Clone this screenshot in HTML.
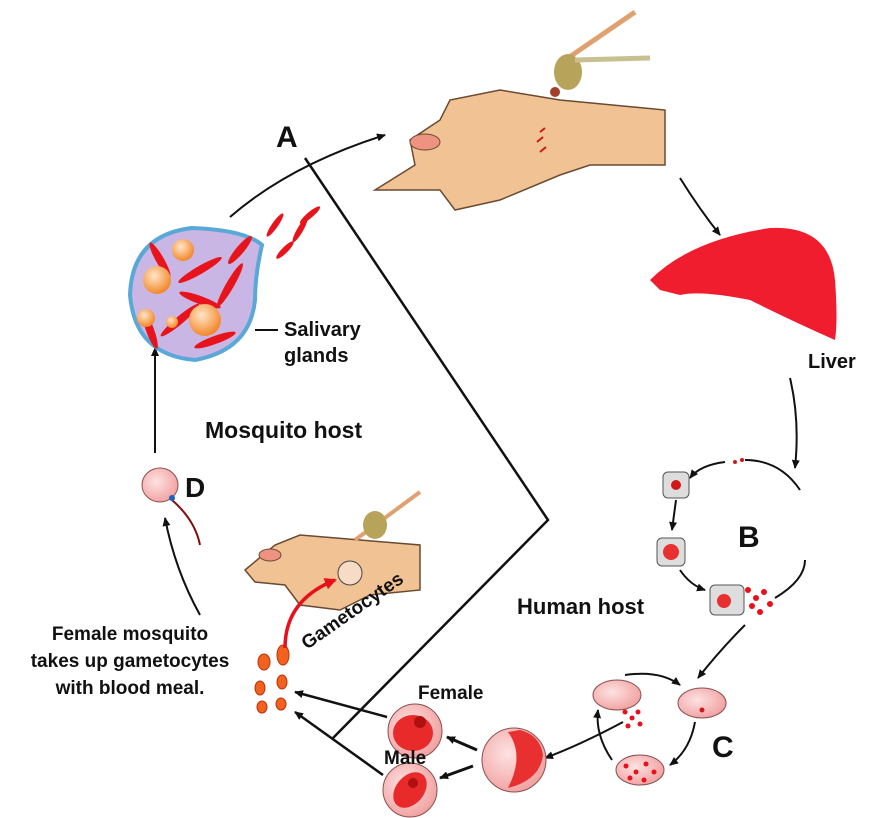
<!DOCTYPE html>
<html><head><style>html,body{margin:0;padding:0;background:#fff}svg{display:block}text{font-family:"Liberation Sans",sans-serif;font-weight:bold;fill:#111}</style></head>
<body>
<svg width="887" height="818" viewBox="0 0 887 818" xmlns="http://www.w3.org/2000/svg">
<defs>
<marker id="ah" markerWidth="10" markerHeight="10" refX="8" refY="5" orient="auto" markerUnits="userSpaceOnUse"><path d="M0,1 L9,5 L0,9 Z" fill="#111"/></marker>
<marker id="ahr" markerWidth="14" markerHeight="14" refX="10" refY="7" orient="auto" markerUnits="userSpaceOnUse"><path d="M0,1 L12,7 L0,13 Z" fill="#e8101a"/></marker>
<radialGradient id="rbc" cx="0.4" cy="0.4" r="0.7"><stop offset="0" stop-color="#fde2e2"/><stop offset="1" stop-color="#f19a9a"/></radialGradient>
<radialGradient id="org" cx="0.4" cy="0.35" r="0.7"><stop offset="0" stop-color="#ffe6c8"/><stop offset="1" stop-color="#f2801e"/></radialGradient>
</defs>
<polyline points="305,158 548,520 333,738" fill="none" stroke="#111" stroke-width="2.5"/>
<path d="M230,217 Q290,165 385,135" fill="none" stroke="#111" stroke-width="2" marker-end="url(#ah)"/>
<path d="M375,190 L415,165 L410,140 L440,120 L450,100 L500,90 L560,100 L665,110 L665,165 L590,165 L560,175 L500,200 L455,210 L440,190 Z" fill="#f1c394" stroke="#6a4a30" stroke-width="1.5"/>
<ellipse cx="425" cy="142" rx="15" ry="8" fill="#ee9282" stroke="#6a4a30"/>
<line x1="565" y1="60" x2="635" y2="12" stroke="#e0a070" stroke-width="5"/>
<ellipse cx="568" cy="72" rx="14" ry="18" fill="#b7a35a"/>
<line x1="575" y1="60" x2="650" y2="58" stroke="#c8c090" stroke-width="5"/>
<circle cx="555" cy="92" r="5" fill="#a0402a"/>
<g stroke="#d01818" stroke-width="2"><line x1="540" y1="132" x2="545" y2="128"/><line x1="537" y1="142" x2="543" y2="137"/><line x1="540" y1="152" x2="546" y2="147"/></g>
<path d="M680,178 Q700,210 720,235" fill="none" stroke="#111" stroke-width="2" marker-end="url(#ah)"/>
<path d="M650,280 Q690,240 770,228 Q830,225 835,280 Q838,320 835,340 Q790,320 750,300 Q700,290 680,295 L660,290 Z" fill="#ef1d2e"/>
<text x="808" y="368" font-size="20">Liver</text>
<path d="M790,378 Q800,420 795,468" fill="none" stroke="#111" stroke-width="2" marker-end="url(#ah)"/>
<path d="M800,490 Q780,460 745,460" fill="none" stroke="#111" stroke-width="2"/>
<path d="M725,462 Q700,465 690,478" fill="none" stroke="#111" stroke-width="2" marker-end="url(#ah)"/>
<circle cx="735" cy="462" r="2" fill="#d01818"/><circle cx="742" cy="460" r="2" fill="#d01818"/>
<rect x="663" y="472" width="26" height="26" rx="5" fill="#ddd" stroke="#555"/>
<circle cx="676" cy="485" r="5" fill="#d01818"/>
<path d="M676,500 L672,530" stroke="#111" stroke-width="2" marker-end="url(#ah)"/>
<rect x="657" y="538" width="28" height="28" rx="5" fill="#ddd" stroke="#555"/>
<circle cx="671" cy="552" r="8" fill="#e83030"/>
<path d="M680,570 Q690,585 705,590" fill="none" stroke="#111" stroke-width="2" marker-end="url(#ah)"/>
<rect x="710" y="585" width="34" height="30" rx="5" fill="#ddd" stroke="#555"/>
<circle cx="724" cy="601" r="7" fill="#e83030"/>
<g fill="#e8101a"><circle cx="748" cy="590" r="3"/><circle cx="756" cy="598" r="3"/><circle cx="764" cy="592" r="3"/><circle cx="752" cy="606" r="3"/><circle cx="770" cy="604" r="3"/><circle cx="760" cy="612" r="3"/></g>
<path d="M775,598 Q805,580 805,560" fill="none" stroke="#111" stroke-width="2"/>
<text x="738" y="547" font-size="30">B</text>
<text x="517" y="614" font-size="22">Human host</text>
<path d="M745,625 Q720,650 698,678" fill="none" stroke="#111" stroke-width="2" marker-end="url(#ah)"/>
<ellipse cx="617" cy="695" rx="24" ry="15" fill="url(#rbc)" stroke="#8a5050"/>
<ellipse cx="702" cy="703" rx="24" ry="15" fill="url(#rbc)" stroke="#8a5050"/>
<circle cx="702" cy="710" r="2.5" fill="#d01818"/>
<ellipse cx="640" cy="770" rx="24" ry="15" fill="url(#rbc)" stroke="#8a5050"/>
<g fill="#e8101a"><circle cx="626" cy="766" r="2.5"/><circle cx="636" cy="772" r="2.5"/><circle cx="646" cy="764" r="2.5"/><circle cx="654" cy="772" r="2.5"/><circle cx="630" cy="778" r="2.5"/><circle cx="644" cy="780" r="2.5"/></g>
<g fill="#e8101a"><circle cx="625" cy="712" r="2.5"/><circle cx="632" cy="718" r="2.5"/><circle cx="638" cy="712" r="2.5"/><circle cx="628" cy="726" r="2.5"/><circle cx="640" cy="724" r="2.5"/></g>
<path d="M625,675 Q660,670 680,685" fill="none" stroke="#111" stroke-width="2" marker-end="url(#ah)"/>
<path d="M695,722 Q690,750 670,765" fill="none" stroke="#111" stroke-width="2" marker-end="url(#ah)"/>
<path d="M612,760 Q595,735 598,710" fill="none" stroke="#111" stroke-width="2" marker-end="url(#ah)"/>
<path d="M623,722 Q580,745 545,758" fill="none" stroke="#111" stroke-width="2" marker-end="url(#ah)"/>
<text x="712" y="757" font-size="30">C</text>
<circle cx="514" cy="760" r="32" fill="url(#rbc)" stroke="#8a5050"/>
<path d="M508,732 Q525,755 508,788 Q540,780 543,755 Q540,735 520,730 Z" fill="#e83030"/>
<circle cx="415" cy="731" r="27" fill="url(#rbc)" stroke="#8a5050"/>
<ellipse cx="413" cy="733" rx="20" ry="18" fill="#e82a2a"/>
<circle cx="420" cy="722" r="6" fill="#b01010"/>
<circle cx="410" cy="790" r="27" fill="url(#rbc)" stroke="#8a5050"/>
<ellipse cx="410" cy="790" rx="14" ry="20" transform="rotate(40 410 790)" fill="#e82a2a"/>
<circle cx="413" cy="783" r="5" fill="#b01010"/>
<text x="418" y="699" font-size="19">Female</text>
<text x="384" y="764" font-size="19">Male</text>
<path d="M477,750 L447,737" stroke="#111" stroke-width="3" marker-end="url(#ah)"/>
<path d="M473,766 L440,778" stroke="#111" stroke-width="3" marker-end="url(#ah)"/>
<path d="M387,717 L295,692" stroke="#111" stroke-width="2.5" marker-end="url(#ah)"/>
<path d="M383,775 L295,712" stroke="#111" stroke-width="2.5" marker-end="url(#ah)"/>
<g fill="#f0621e" stroke="#c03010"><ellipse cx="264" cy="662" rx="6" ry="8"/><ellipse cx="283" cy="655" rx="6" ry="10"/><ellipse cx="260" cy="688" rx="5" ry="7"/><ellipse cx="282" cy="682" rx="5" ry="7"/><ellipse cx="262" cy="707" rx="5" ry="6"/><ellipse cx="281" cy="704" rx="5" ry="6"/></g>
<path d="M245,570 L275,545 L300,535 L360,540 L420,545 L420,590 L370,595 L340,610 L300,605 L285,585 L255,582 Z" fill="#f1c394" stroke="#6a4a30" stroke-width="1.5"/>
<ellipse cx="270" cy="555" rx="11" ry="6" fill="#ee9282" stroke="#6a4a30"/>
<line x1="355" y1="540" x2="420" y2="492" stroke="#e0a070" stroke-width="4"/>
<ellipse cx="375" cy="525" rx="12" ry="14" fill="#b7a35a"/>
<circle cx="350" cy="573" r="12" fill="#f6dcc4" stroke="#444"/>
<path d="M285,648 Q285,600 335,580" fill="none" stroke="#e8101a" stroke-width="3.5" marker-end="url(#ahr)"/>
<text x="0" y="0" font-size="19" transform="translate(307,650) rotate(-35)">Gametocytes</text>
<text x="130" y="640" font-size="19" text-anchor="middle">Female mosquito</text>
<text x="130" y="667" font-size="19" text-anchor="middle">takes up gametocytes</text>
<text x="130" y="694" font-size="19" text-anchor="middle">with blood meal.</text>
<path d="M200,615 Q175,570 165,518" fill="none" stroke="#111" stroke-width="2" marker-end="url(#ah)"/>
<ellipse cx="160" cy="485" rx="18" ry="17" fill="url(#rbc)" stroke="#8a5050"/>
<path d="M172,500 Q195,520 200,545" fill="none" stroke="#7a1010" stroke-width="2"/>
<circle cx="172" cy="498" r="3" fill="#2060c0"/>
<text x="185" y="497" font-size="28">D</text>
<path d="M155,453 L155,348" stroke="#111" stroke-width="2" marker-end="url(#ah)"/>
<text x="205" y="438" font-size="23">Mosquito host</text>
<path d="M192,228 Q245,230 262,245 Q255,275 255,300 Q250,350 195,360 Q135,355 130,295 Q132,235 192,228 Z" fill="#c9b6e4" stroke="#5aa8d8" stroke-width="4"/>
<g fill="#e8141c">
<ellipse cx="200" cy="270" rx="25" ry="4" transform="rotate(-30 200 270)"/><ellipse cx="180" cy="320" rx="25" ry="4" transform="rotate(-40 180 320)"/><ellipse cx="230" cy="285" rx="25" ry="4" transform="rotate(-60 230 285)"/><ellipse cx="160" cy="260" rx="20" ry="4" transform="rotate(60 160 260)"/><ellipse cx="215" cy="340" rx="22" ry="4" transform="rotate(-20 215 340)"/><ellipse cx="150" cy="330" rx="20" ry="4" transform="rotate(70 150 330)"/><ellipse cx="200" cy="300" rx="22" ry="4" transform="rotate(20 200 300)"/><ellipse cx="240" cy="250" rx="18" ry="4" transform="rotate(-50 240 250)"/>
<ellipse cx="275" cy="225" rx="14" ry="3" transform="rotate(-55 275 225)"/><ellipse cx="300" cy="230" rx="14" ry="3" transform="rotate(-60 300 230)"/><ellipse cx="285" cy="250" rx="12" ry="3" transform="rotate(-45 285 250)"/><ellipse cx="310" cy="215" rx="13" ry="3" transform="rotate(-40 310 215)"/>
</g>
<g fill="url(#org)"><circle cx="183" cy="250" r="11"/><circle cx="157" cy="280" r="14"/><circle cx="205" cy="320" r="16"/><circle cx="146" cy="318" r="9"/><circle cx="172" cy="322" r="6"/></g>
<line x1="255" y1="330" x2="278" y2="330" stroke="#111" stroke-width="2"/>
<text x="284" y="336" font-size="20">Salivary</text>
<text x="284" y="362" font-size="20">glands</text>
<text x="276" y="147" font-size="30">A</text>
</svg>
</body></html>
